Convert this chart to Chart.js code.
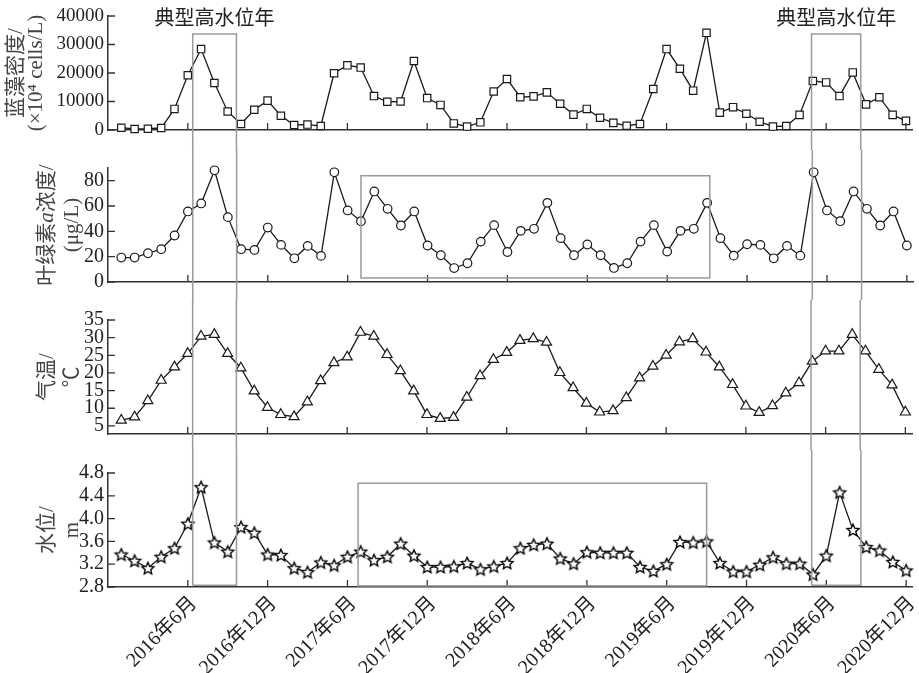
<!DOCTYPE html>
<html>
<head>
<meta charset="utf-8">
<script src="https://cdn.jsdelivr.net/npm/chart.js@4.4.0/dist/chart.umd.min.js"></script>
<style>
body { margin: 0; background: #fff; }
#wrap { position: relative; width: 919px; height: 673px; }
canvas { position: absolute; left: 0; }
</style>
</head>
<body>
<div id="wrap">
  <canvas id="c1" width="919" height="150" style="top:0"></canvas>
  <canvas id="c2" width="919" height="150" style="top:150px"></canvas>
  <canvas id="c3" width="919" height="150" style="top:300px"></canvas>
  <canvas id="c4" width="919" height="223" style="top:450px"></canvas>
</div>
<script>
// monthly samples, Jan 2016 .. Dec 2020
var months = [];
for (var yr = 2016; yr <= 2020; yr++) for (var mo = 1; mo <= 12; mo++) months.push(yr + '年' + mo + '月');

var cyanoDensity = [800, 350, 450, 700, 7400, 19200, 28400, 16500, 6500, 2100,
  7100, 10300, 5000, 1750, 1900, 1400, 19900, 22700, 21900, 11900,
  9900, 10000, 24200, 11200, 8800, 2300, 1200, 2700, 13500, 17900,
  11500, 11800, 13200, 9200, 5400, 7400, 4300, 2500, 1500, 2100,
  14400, 28400, 21500, 13800, 34100, 6100, 8000, 5700, 2900, 1200,
  1400, 5300, 17200, 16700, 11900, 20200, 9000, 11500, 5300, 3200];

var chlA = [19.3, 19.3, 22.7, 25.9, 36.7, 55.7, 62, 88.2, 51.2, 25.9,
  25.3, 43, 29.3, 18.7, 28.5, 20.6, 86.6, 56.5, 48, 71.5,
  57.8, 44.6, 55.7, 28.8, 21.1, 11, 14.8, 31.9, 44.9, 23.7,
  40.4, 42, 62.5, 34.6, 21.1, 29.6, 21.1, 11.1, 14.8, 31.9,
  44.9, 24, 40.4, 42, 62.5, 34.6, 20.8, 29.8, 29.3, 18.7,
  28.5, 20.8, 86.6, 56.5, 48, 71.5, 57.8, 44.6, 55.7, 28.8];

var airTemp = [6.6, 7.5, 12.1, 17.9, 21.7, 25.5, 30.4, 30.9, 25.5, 21.4,
  14.9, 10.2, 8.2, 7.6, 11.8, 17.8, 22.9, 24.5, 31.5, 30.4,
  25.2, 20.6, 14.9, 8.2, 7.1, 7.4, 13.1, 19.2, 23.8, 25.8,
  29.2, 29.7, 28.7, 20.1, 15.8, 11.4, 8.9, 9.3, 13, 18.6,
  21.9, 25, 28.8, 29.7, 25.9, 21.7, 16.7, 10.6, 8.8, 10.7,
  14.3, 17.2, 23.3, 26.2, 26.2, 30.9, 26.2, 21, 16.6, 8.9];

var waterLevel = [3.37, 3.26, 3.13, 3.33, 3.48, 3.91, 4.55, 3.58, 3.42, 3.85,
  3.75, 3.37, 3.36, 3.13, 3.06, 3.23, 3.18, 3.33, 3.42, 3.27,
  3.33, 3.56, 3.35, 3.15, 3.15, 3.16, 3.22, 3.11, 3.16, 3.22,
  3.48, 3.54, 3.56, 3.30, 3.21, 3.41, 3.40, 3.40, 3.40, 3.15,
  3.08, 3.20, 3.59, 3.58, 3.60, 3.22, 3.07, 3.07, 3.19, 3.32,
  3.21, 3.21, 3.02, 3.35, 4.46, 3.80, 3.50, 3.44, 3.24, 3.09];

var tickMonths = ['2016年6月', '2016年12月', '2017年6月', '2017年12月', '2018年6月',
  '2018年12月', '2019年6月', '2019年12月', '2020年6月', '2020年12月'];

var cyanoTicks = [0, 10000, 20000, 30000, 40000];
var chlTicks = [0, 20, 40, 60, 80];
var tempTicks = [5, 10, 15, 20, 25, 30, 35];
var levelTicks = [2.8, 3.2, 3.6, 4.0, 4.4, 4.8];

// highlighted periods (month index / axis values)
var highWaterLabel = '典型高水位年';
var highWaterSpans = [[5.37, 8.66], [51.9, 55.6]];
var spanTop = 33700, spanBottom = 2.83;
var chlBox = [18, 44.2, 3.2, 83.9];
var levelBox = [17.8, 44, 2.82, 4.62];

var SERIF = "'Liberation Serif', 'Noto Sans CJK SC', serif";
var INK = '#1a1a1a';

function makeStar() {
  var c = document.createElement('canvas');
  c.width = 16; c.height = 16;
  var g = c.getContext('2d');
  g.beginPath();
  for (var i = 0; i < 10; i++) {
    var r = i % 2 ? 3 : 6.3;
    var a = -Math.PI / 2 + i * Math.PI / 5;
    g.lineTo(8 + r * Math.cos(a), 8.5 + r * Math.sin(a));
  }
  g.closePath();
  g.fillStyle = '#fff'; g.fill();
  g.lineWidth = 1.4; g.strokeStyle = '#000'; g.stroke();
  return c;
}

function makeDecor(cfg) {
  return {
    id: 'decor',
    afterDraw: function (chart) {
      var ctx = chart.ctx, a = chart.chartArea;
      var xs = chart.scales.x, ys = chart.scales.y;
      ctx.save();
      // inward tick marks
      ctx.strokeStyle = '#333'; ctx.lineWidth = 1.3;
      ctx.beginPath();
      xs.ticks.forEach(function (t) {
        var px = xs.getPixelForValue(t.value);
        ctx.moveTo(px, a.bottom); ctx.lineTo(px, a.bottom - 7);
      });
      ys.ticks.forEach(function (t) {
        var py = ys.getPixelForValue(t.value);
        ctx.moveTo(a.left, py); ctx.lineTo(a.left + 7, py);
      });
      ctx.stroke();

      // axis titles
      ctx.fillStyle = '#444';
      ctx.textBaseline = 'middle';
      var cy = (a.top + a.bottom) / 2;
      cfg.title.forEach(function (line, k) {
        ctx.save();
        ctx.translate(cfg.titleX[k], cy);
        ctx.rotate(-Math.PI / 2);
        ctx.textAlign = 'left';
        var total = 0;
        line.forEach(function (s) {
          ctx.font = (s.it ? 'italic ' : '') + cfg.titleSize + 'px ' + SERIF;
          total += ctx.measureText(s.t).width;
        });
        var x = -total / 2;
        line.forEach(function (s) {
          ctx.font = (s.it ? 'italic ' : '') + cfg.titleSize + 'px ' + SERIF;
          ctx.fillText(s.t, x, 0);
          x += ctx.measureText(s.t).width;
        });
        ctx.restore();
      });

      // highlight boxes
      ctx.strokeStyle = '#9a9a9a'; ctx.lineWidth = 1.5;
      var H = chart.height;
      highWaterSpans.forEach(function (sp) {
        var x0 = xs.getPixelForValue(sp[0]), x1 = xs.getPixelForValue(sp[1]);
        var y0 = 0, y1 = H;
        if (cfg.role === 'top') y0 = ys.getPixelForValue(spanTop);
        if (cfg.role === 'bottom') y1 = ys.getPixelForValue(spanBottom);
        ctx.beginPath();
        ctx.moveTo(x0, y1); ctx.lineTo(x0, y0);
        if (cfg.role === 'top') ctx.lineTo(x1, y0); else ctx.moveTo(x1, y0);
        ctx.lineTo(x1, y1);
        if (cfg.role === 'bottom') ctx.lineTo(x0, y1);
        ctx.stroke();
        if (cfg.role === 'top') {
          ctx.fillStyle = '#222';
          ctx.font = '20px ' + SERIF;
          ctx.textAlign = 'center';
          ctx.fillText(highWaterLabel, (x0 + x1) / 2, y0 - 14);
        }
      });
      if (cfg.box) {
        var b = cfg.box;
        var bx0 = xs.getPixelForValue(b[0]), bx1 = xs.getPixelForValue(b[1]);
        var by0 = ys.getPixelForValue(b[3]), by1 = ys.getPixelForValue(b[2]);
        ctx.strokeRect(bx0, by0, bx1 - bx0, by1 - by0);
      }
      ctx.restore();
    }
  };
}

function panel(id, cfg) {
  var canvas = document.getElementById(id);
  var h = canvas.height;
  return new Chart(canvas, {
    type: 'line',
    data: {
      datasets: [{
        data: cfg.values.map(function (v, i) { return { x: i, y: v }; }),
        borderColor: INK,
        borderWidth: 1.3,
        tension: 0,
        fill: false,
        clip: false,
        pointStyle: cfg.marker,
        pointRadius: cfg.r,
        pointBackgroundColor: '#fff',
        pointBorderColor: INK,
        pointBorderWidth: 1.2
      }]
    },
    options: {
      responsive: false,
      animation: false,
      devicePixelRatio: 1,
      layout: { padding: { top: cfg.top, right: 1, left: 0, bottom: 0 } },
      plugins: { legend: { display: false }, tooltip: { enabled: false } },
      scales: {
        x: {
          type: 'linear', min: -1, max: 59.5,
          grid: { display: false, drawTicks: false },
          border: { display: true, color: '#333', width: 1.5 },
          afterBuildTicks: function (s) {
            s.ticks = tickMonths.map(function (l) { return { value: months.indexOf(l) }; });
          },
          afterFit: function (s) {
            s.height = h - cfg.bottom; s.paddingLeft = 0; s.paddingRight = 0;
          },
          ticks: {
            display: !!cfg.showX, autoSkip: false, minRotation: 45, maxRotation: 45,
            padding: 5, labelOffset: 6, color: '#222', font: { family: SERIF, size: 20 },
            callback: function (v) { return months[v]; }
          }
        },
        y: {
          min: cfg.min, max: cfg.max,
          grid: { display: false, drawTicks: false },
          border: { display: true, color: '#333', width: 1.5 },
          afterBuildTicks: function (s) {
            s.ticks = cfg.ticks.map(function (v) { return { value: v }; });
          },
          afterFit: function (s) { s.width = 108; s.paddingTop = 0; s.paddingBottom = 0; },
          ticks: {
            autoSkip: false, padding: 4, color: '#222', font: { family: SERIF, size: cfg.fs },
            callback: cfg.fmt
          }
        }
      }
    },
    plugins: [makeDecor(cfg)]
  });
}

panel('c1', {
  values: cyanoDensity, marker: 'rect', r: 5.2, min: 0, max: 40000, ticks: cyanoTicks, fs: 19,
  fmt: function (v) { return String(v); }, top: 16, bottom: 130, role: 'top',
  title: [[{ t: '蓝藻密度/' }], [{ t: '(×10⁴ cells/L)' }]], titleX: [16, 36], titleSize: 21
});
panel('c2', {
  values: chlA, marker: 'circle', r: 4.3, min: 0, max: 90, ticks: chlTicks, fs: 20,
  fmt: function (v) { return String(v); }, top: 18, bottom: 132, role: 'mid', box: chlBox,
  title: [[{ t: '叶绿素' }, { t: 'a', it: true }, { t: '浓度/' }], [{ t: '(μg/L)' }]], titleX: [47, 72], titleSize: 21
});
panel('c3', {
  values: airTemp, marker: 'triangle', r: 5.8, min: 2.7, max: 35, ticks: tempTicks, fs: 20,
  fmt: function (v) { return String(v); }, top: 20, bottom: 134, role: 'mid',
  title: [[{ t: '气温/' }], [{ t: '℃' }]], titleX: [47, 72], titleSize: 21
});
panel('c4', {
  values: waterLevel, marker: makeStar(), r: 5, min: 2.8, max: 4.8, ticks: levelTicks, fs: 20,
  fmt: function (v) { return v.toFixed(1); }, top: 23, bottom: 137, role: 'bottom', box: levelBox,
  showX: true,
  title: [[{ t: '水位/' }], [{ t: 'm' }]], titleX: [47, 72], titleSize: 21
});
</script>
</body>
</html>
